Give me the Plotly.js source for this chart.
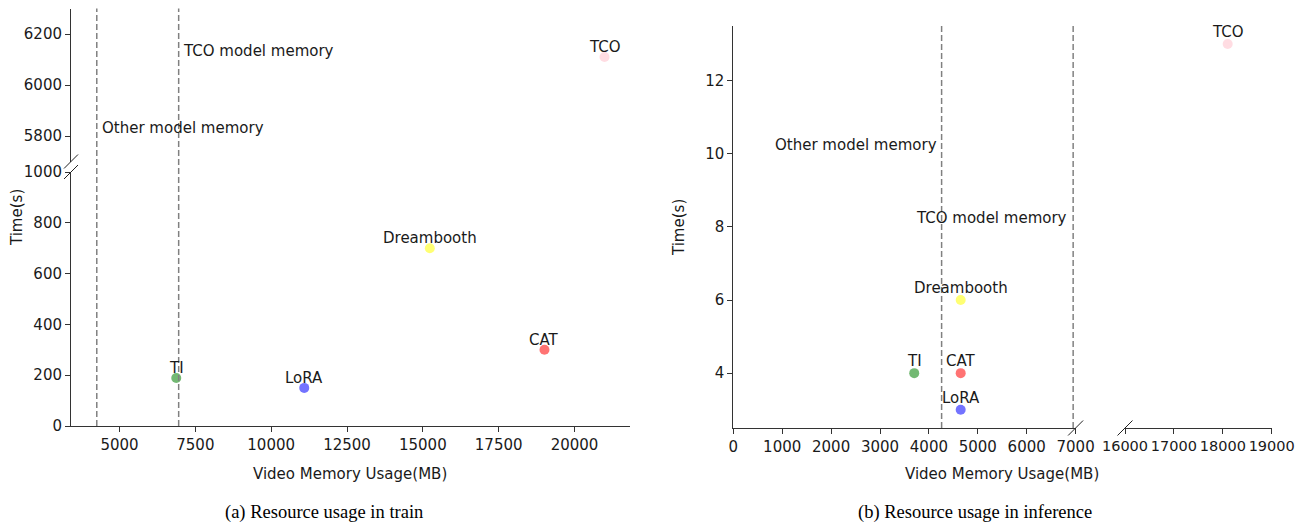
<!DOCTYPE html>
<html><head><meta charset="utf-8">
<script src="https://cdn.plot.ly/plotly-3.0.1.min.js"></script>
<style>html,body{margin:0;padding:0;background:#fff}#chart{width:1304px;height:525px}</style>
</head><body><div id="chart"></div>
<script>
// ---- data ----
const methods = ["TI", "LoRA", "Dreambooth", "CAT", "TCO"];
const colors = ["green", "blue", "yellow", "red", "pink"];
const trainMemory = [6870, 11090, 15230, 19010, 20990];
const trainTime = [189, 150, 700, 300, 6110];
const inferMemory = [3700, 4650, 4650, 4650, 18100];
const inferTime = [4, 3, 6, 4, 13];
const otherModelMemTrain = 4250, tcoModelMemTrain = 6950;
const otherModelMemInfer = 4260, tcoModelMemInfer = 6950;
const trainXTicks = [5000, 7500, 10000, 12500, 15000, 17500, 20000];
const trainYTicksLow = [0, 200, 400, 600, 800, 1000];
const trainYTicksHigh = [5800, 6000, 6200];
const inferXTicksLeft = [0, 1000, 2000, 3000, 4000, 5000, 6000, 7000];
const inferXTicksRight = [16000, 17000, 18000, 19000];
const inferYTicks = [4, 6, 8, 10, 12];

const W = 1304, H = 525;
const px = v => v / W, py = v => 1 - v / H;
const FONT = "DejaVu Sans, sans-serif";
const FS = 15;
const TXT = "#1a1a1a";
const AX = "#333";

const lowIdx = [], highIdx = [];
trainTime.forEach((t, i) => (t > 1000 ? highIdx : lowIdx).push(i));
const leftIdx = [], rightIdx = [];
inferMemory.forEach((m, i) => (m > 7000 ? rightIdx : leftIdx).push(i));

function pts(idx, xs, ys, xa, ya) {
  return {
    type: "scatter", mode: "markers",
    x: idx.map(i => xs[i]), y: idx.map(i => ys[i]),
    marker: {size: 10, color: idx.map(i => colors[i]), opacity: 0.55},
    xaxis: xa, yaxis: ya, showlegend: false, hoverinfo: "skip", cliponaxis: false
  };
}
function labels(idx, xs, ys, xa, ya, shift) {
  return idx.map(i => ({xref: xa, yref: ya, x: xs[i], y: ys[i], yshift: shift,
    text: methods[i], showarrow: false, xanchor: "center", yanchor: "middle",
    font: {family: FONT, size: FS, color: TXT}}));
}
const traces = [
  pts(lowIdx, trainMemory, trainTime, "x", "y"),
  pts(highIdx, trainMemory, trainTime, "x", "y2"),
  pts(leftIdx, inferMemory, inferTime, "x3", "y3"),
  pts(rightIdx, inferMemory, inferTime, "x4", "y3"),
];

const axBase = {
  showgrid: false, zeroline: false, showline: true, linecolor: AX, linewidth: 1,
  ticks: "outside", ticklen: 5, tickwidth: 1, tickcolor: AX, tickangle: 0,
  tickfont: {family: FONT, size: FS, color: TXT}, fixedrange: true
};
const dashLine = {color: "#808080", width: 1.5, dash: "6px,3px"};

function slash(cx, cy, d) {
  return {type: "line", xref: "paper", yref: "paper",
    x0: px(cx - d), y0: py(cy + d), x1: px(cx + d), y1: py(cy - d),
    line: {color: "#222", width: 1}};
}

const txtFont = {family: FONT, size: FS, color: TXT};
const capFont = {family: "Liberation Serif, Times New Roman, serif", size: 18.5, color: "#000"};

const layout = {
  width: W, height: H, margin: {l: 0, r: 0, t: 0, b: 0},
  paper_bgcolor: "#fff", plot_bgcolor: "rgba(0,0,0,0)",
  xaxis: Object.assign({}, axBase, {domain: [px(71), px(630)], range: [3400, 21830],
    tickvals: trainXTicks, ticktext: trainXTicks.map(String), anchor: "y"}),
  yaxis: Object.assign({}, axBase, {domain: [py(426), py(172)], range: [0, 1000],
    tickvals: trainYTicksLow, ticktext: trainYTicksLow.map(String), anchor: "x"}),
  yaxis2: Object.assign({}, axBase, {domain: [py(161.5), py(8.5)], range: [5700, 6300],
    tickvals: trainYTicksHigh, ticktext: trainYTicksHigh.map(String), anchor: "x"}),
  xaxis3: Object.assign({}, axBase, {domain: [px(733.3), px(1075.6)], range: [0, 7000],
    tickvals: inferXTicksLeft, ticktext: inferXTicksLeft.map(String), anchor: "y3"}),
  xaxis4: Object.assign({}, axBase, {domain: [px(1125), px(1271.7)], range: [16000, 19000],
    tickvals: inferXTicksRight, ticktext: inferXTicksRight.map(String), anchor: "y3",
    tickfont: {family: FONT, size: 14.5, color: TXT}}),
  yaxis3: Object.assign({}, axBase, {domain: [py(428), py(25.7)], range: [2.5, 13.5],
    tickvals: inferYTicks, ticktext: inferYTicks.map(String), anchor: "x3"}),
  shapes: [
    {type: "line", xref: "x", yref: "paper", x0: otherModelMemTrain, x1: otherModelMemTrain, y0: py(426), y1: py(8.5), line: dashLine},
    {type: "line", xref: "x", yref: "paper", x0: tcoModelMemTrain, x1: tcoModelMemTrain, y0: py(426), y1: py(8.5), line: dashLine},
    {type: "line", xref: "x3", yref: "y3", x0: otherModelMemInfer, x1: otherModelMemInfer, y0: 2.5, y1: 13.5, line: dashLine},
    {type: "line", xref: "x3", yref: "y3", x0: tcoModelMemInfer, x1: tcoModelMemInfer, y0: 2.5, y1: 13.5, line: dashLine},
    slash(71, 161.5, 7), slash(71, 172, 7),
    slash(1075.6, 428, 7.5), slash(1125, 428, 7.5),
  ],
  annotations: [
    ...labels(lowIdx, trainMemory, trainTime, "x", "y", 10),
    ...labels(highIdx, trainMemory, trainTime, "x", "y2", 10),
    ...labels(leftIdx, inferMemory, inferTime, "x3", "y3", 12),
    ...labels(rightIdx, inferMemory, inferTime, "x4", "y3", 12),
    {xref: "x", yref: "y2", x: 7030, y: 6133, text: "TCO model memory", showarrow: false, xanchor: "left", yanchor: "middle", font: txtFont},
    {xref: "x", yref: "y2", x: 4360, y: 5831, text: "Other model memory", showarrow: false, xanchor: "left", yanchor: "middle", font: txtFont},
    {xref: "x3", yref: "y3", x: 4200, y: 10.25, text: "Other model memory", showarrow: false, xanchor: "right", yanchor: "middle", font: txtFont},
    {xref: "x3", yref: "y3", x: 6860, y: 8.25, text: "TCO model memory", showarrow: false, xanchor: "right", yanchor: "middle", font: txtFont},
    {xref: "paper", yref: "paper", x: px(350), y: py(474), text: "Video Memory Usage(MB)", showarrow: false, xanchor: "center", yanchor: "middle", font: txtFont},
    {xref: "paper", yref: "paper", x: px(1002), y: py(474), text: "Video Memory Usage(MB)", showarrow: false, xanchor: "center", yanchor: "middle", font: txtFont},
    {xref: "paper", yref: "paper", x: px(17), y: py(218), text: "Time(s)", textangle: -90, showarrow: false, xanchor: "center", yanchor: "middle", font: txtFont},
    {xref: "paper", yref: "paper", x: px(679), y: py(228), text: "Time(s)", textangle: -90, showarrow: false, xanchor: "center", yanchor: "middle", font: txtFont},
    {xref: "paper", yref: "paper", x: px(324), y: py(512), text: "(a) Resource usage in train", showarrow: false, xanchor: "center", yanchor: "middle", font: capFont},
    {xref: "paper", yref: "paper", x: px(975), y: py(512), text: "(b) Resource usage in inference", showarrow: false, xanchor: "center", yanchor: "middle", font: capFont},
  ]
};
Plotly.newPlot("chart", traces, layout, {displayModeBar: false, staticPlot: true});
</script></body></html>
